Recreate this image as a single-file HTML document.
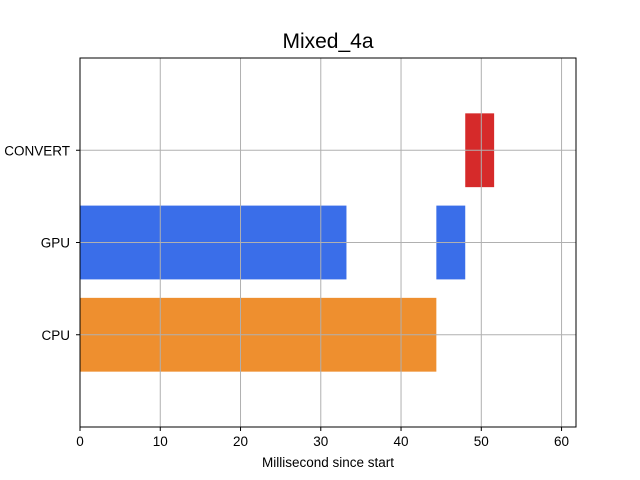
<!DOCTYPE html>
<html><head><meta charset="utf-8"><style>body{margin:0;background:#fff}svg{display:block;font-family:"Liberation Sans","DejaVu Sans",sans-serif}</style></head>
<body>
<svg id="chart" width="640" height="480">
<text x="328" y="48" text-anchor="middle" font-size="21">Mixed_4a</text>
<g id="bars"></g>
<g id="grid"></g>
<rect x="80" y="58" width="496" height="369" fill="none" stroke="#000" stroke-width="1"/>
<g id="axes"></g>
<text x="328" y="467" text-anchor="middle" font-size="13.5">Millisecond since start</text>
</svg>
<script>
const categories = ["CPU","GPU","CONVERT"];
const segStart = [0, 0, 44.4, 48];
const segEnd = [44.4, 33.2, 48, 51.6];
const segCat = [0, 1, 1, 2];
const segColor = ["#ee8f2f","#3a6ee9","#3a6ee9","#d62a2a"];
const xTicks = [0,10,20,30,40,50,60];
const NS="http://www.w3.org/2000/svg";
const X0=80,X1=576,xMin=0,xMax=61.8,Y0=427,Y1=58,yMin=-1,yMax=3;
const xs=v=>X0+(v-xMin)/(xMax-xMin)*(X1-X0);
const ys=v=>Y0-(v-yMin)/(yMax-yMin)*(Y0-Y1);
function mk(t,a,p){const e=document.createElementNS(NS,t);for(const k in a)e.setAttribute(k,a[k]);p.appendChild(e);return e;}
const bars=document.getElementById('bars'),grid=document.getElementById('grid'),axes=document.getElementById('axes');
segStart.forEach((s,i)=>{
 const r=mk('rect',{x:xs(s),y:ys(segCat[i]+0.4),width:xs(segEnd[i])-xs(s),height:ys(segCat[i]-0.4)-ys(segCat[i]+0.4),fill:segColor[i]},bars);
 
 
});
xTicks.forEach(v=>{
 const x=xs(v);
 const g=mk('line',{x1:x,x2:x,y1:Y1,y2:Y0,stroke:'#b0b0b0','stroke-width':1},grid);
 
 
 mk('line',{x1:x,x2:x,y1:Y0,y2:Y0+4,stroke:'#000'},axes);
 const t=mk('text',{x:x,y:Y0+19,'text-anchor':'middle','font-size':13.5},axes);
 t.textContent=v;
 
 
});
categories.forEach((c,i)=>{
 const y=ys(i);
 const g=mk('line',{x1:X0,x2:X1,y1:y,y2:y,stroke:'#b0b0b0','stroke-width':1},grid);
 
 
 mk('line',{x1:X0-4,x2:X0,y1:y,y2:y,stroke:'#000'},axes);
 const t=mk('text',{x:X0-10,y:y+5,'text-anchor':'end','font-size':13.5},axes);
 t.textContent=c;
 
 
});
</script>
</body></html>
